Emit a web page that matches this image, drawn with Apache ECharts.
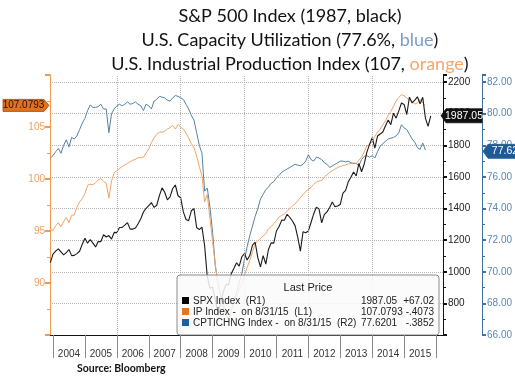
<!DOCTYPE html>
<html>
<head>
<meta charset="utf-8">
<script src="https://cdn.jsdelivr.net/npm/echarts@6/dist/echarts.min.js"></script>
<style>
  html, body { margin: 0; padding: 0; background: #fff; }
  #chart { width: 515px; height: 377px; }
</style>
</head>
<body>
<div id="chart"></div>
<script>
// monthly points, the first one sits at the end of Nov 2003
const startYear = 2003
const startMonth = 11

// S&P 500 (right axis, black), Nov 2003 .. Oct 2015
const spx = [
  1058, 1112,
  1131, 1145, 1126, 1107, 1121, 1141, 1102, 1104, 1115, 1130, 1174, 1212,
  1181, 1204, 1181, 1157, 1192, 1191, 1234, 1220, 1229, 1207, 1249, 1248,
  1280, 1281, 1295, 1311, 1270, 1270, 1277, 1304, 1336, 1378, 1401, 1418,
  1438, 1407, 1421, 1482, 1531, 1503, 1455, 1474, 1527, 1549, 1481, 1468,
  1379, 1331, 1323, 1386, 1400, 1280, 1267, 1283, 1165, 969, 896, 903,
  826, 735, 798, 873, 919, 919, 987, 1021, 1057, 1036, 1096, 1115,
  1074, 1104, 1169, 1187, 1089, 1031, 1102, 1049, 1141, 1183, 1181, 1258,
  1286, 1327, 1326, 1364, 1345, 1321, 1292, 1219, 1131, 1253, 1247, 1258,
  1312, 1366, 1408, 1398, 1310, 1362, 1379, 1407, 1441, 1412, 1416, 1426,
  1498, 1515, 1569, 1598, 1631, 1606, 1686, 1633, 1682, 1757, 1806, 1848,
  1783, 1859, 1872, 1884, 1924, 1960, 1931, 2003, 1972, 2018, 2068, 2059,
  1995, 2105, 2068, 2086, 2107, 2063, 2104, 1972, 1920, 1987.05
]

// industrial production (left axis, orange), Nov 2003 .. Aug 2015
const ip = [
  95.15, 95.05, 95.5, 95.8, 95.4, 95.9, 96.3, 95.8, 96.5, 96.55,
  97.3, 97.8, 98.1, 98.6, 99.4, 99.5, 99.45, 99.65, 99.9, 100.05,
  99.75, 99.6, 98.15, 99.8, 100.6, 100.8, 101.0, 101.2, 101.35, 101.5,
  101.65, 101.8, 101.9, 102.05, 102.05, 102.1, 102.5, 102.9, 103.5, 103.95,
  104.3, 104.5, 104.5, 104.6, 104.8, 104.95, 105.15, 104.8, 105.25, 105.0,
  104.8, 104.4, 103.95, 103.4, 103.0, 102.2, 101.2, 100.3, 97.8, 98.5,
  96.2, 94.0, 91.8, 90.0, 89.0, 88.0, 87.3, 87.0, 87.4, 88.1,
  88.7, 89.3, 90.0, 90.8, 91.5, 92.2, 93.0, 93.8, 94.0, 94.3,
  94.5, 94.75, 95.2, 95.4, 95.7, 96.0, 96.35, 96.5, 96.65, 96.9,
  97.15, 97.4, 97.6, 97.9, 98.2, 98.5, 98.8, 99.0, 99.2, 99.5,
  99.7, 99.8, 99.85, 100.2, 100.4, 100.65, 100.8, 100.95, 101.1, 101.2,
  101.3, 101.35, 101.45, 101.5, 101.55, 101.5, 101.8, 102.1, 102.6, 103.2,
  103.3, 103.6, 104.1, 104.5, 104.8, 105.2, 105.6, 106.1, 106.5, 107.0,
  107.5, 107.85, 108.1, 108.0, 107.8, 107.6, 107.5, 107.2, 107.3, 107.65,
  107.3, 107.0793
]

// capacity utilization (far right axis, blue), Nov 2003 .. Aug 2015
const cu = [
  77.2, 77.35, 77.6, 77.8, 77.5, 78.0, 78.35, 77.9, 78.5, 78.4,
  78.6, 79.0, 79.4, 79.7, 80.2, 80.55, 80.4, 80.4, 80.45, 80.6,
  80.3, 80.3, 78.8, 80.0, 80.3, 80.5, 80.6, 80.5, 80.6, 80.75,
  80.6, 80.65, 80.75, 80.6, 80.5, 80.2, 80.6, 80.5, 80.3, 80.8,
  80.9, 81.1, 81.05, 81.0, 80.85, 80.8, 81.0, 81.15, 81.1, 81.0,
  80.9, 80.6, 80.3, 79.9, 79.6, 78.8, 78.0, 77.5, 75.1, 75.3,
  74.1, 72.5, 70.4, 69.3, 68.5, 67.8, 67.3, 67.0, 67.5, 68.2,
  68.7, 69.3, 69.9, 70.8, 71.6, 72.3, 72.9, 73.5, 74.0, 74.6,
  74.9, 75.2, 75.35, 75.6, 75.7, 75.95, 76.1, 76.3, 76.4, 76.5,
  76.6, 76.7, 76.8, 76.75, 76.7, 76.8, 77.0, 77.4, 77.1, 77.0,
  77.25, 77.2, 77.1, 76.9, 76.8, 76.6, 76.7, 76.8, 76.9, 77.0,
  77.0, 76.95, 77.0, 76.9, 76.85, 76.85, 76.7, 77.1, 77.3, 77.35,
  77.25, 77.35, 77.2, 77.6, 77.95, 78.1, 78.25, 78.4, 78.45, 78.5,
  78.6, 78.8, 79.3, 79.1, 79.0, 78.7, 78.4, 78.2, 77.85, 77.75,
  78.15, 77.7
]

const yearTicks = [2004, 2005, 2006, 2007, 2008, 2009, 2010, 2011, 2012, 2013, 2014, 2015, 2016]
const yearLabels = [2004, 2005, 2006, 2007, 2008, 2009, 2010, 2011, 2012, 2013, 2014, 2015]
const gridYears = [2006, 2008, 2010, 2012, 2014]
const ipLabels = [90, 95, 100, 105]
const spxLabels = [800, 1000, 1200, 1400, 1600, 1800, 2000, 2200]
const cuLabels = [66, 68, 70, 72, 74, 76, 78, 80, 82]

// last price box
const lastRows = [
  { name: 'SPX Index  (R1)', last: '1987.05', change: '+67.02', color: '#000000' },
  { name: 'IP Index -  on 8/31/15  (L1)', last: '107.0793', change: '-.4073', color: '#e8731e' },
  { name: 'CPTICHNG Index -  on 8/31/15  (R2)', last: '77.6201', change: '-.3852', color: '#1f5fa0' }
]
const lastSpx = 1987.05
const lastIp = 107.0793
const lastCu = 77.62

const toPoints = arr => arr.map((v, i) => [startYear + (startMonth + i) / 12, v])

const axisFont = 'Liberation Sans'
const orange = '#f0a266'
const blue = '#55809f'

const chart = echarts.init(document.getElementById('chart'))

const titleRich = (color) => ({ color: color, fontFamily: 'Lato', fontSize: 18, fontWeight: 'normal', lineHeight: 24 })

const option = {
  animation: false,
  title: {
    left: 285,
    top: -1,
    textAlign: 'center',
    text: '{a|S&P 500 Index (1987, black)}\n{a|U.S. Capacity Utilization (77.6%, }{b|blue}{a|)}\n{a|U.S. Industrial Production Index (107, }{c|orange}{a|)}',
    textStyle: {
      fontFamily: 'Lato',
      fontSize: 18,
      fontWeight: 'normal',
      lineHeight: 24,
      rich: {
        a: titleRich('#111'),
        b: titleRich('#7c9fc8'),
        c: titleRich('#f4a66c')
      }
    }
  },
  grid: {
    left: 50,
    top: 75,
    width: 393,
    height: 260,
    outerBoundsMode: 'none'
  },
  xAxis: {
    type: 'value',
    min: 2003.906,
    max: 2016.218,
    axisLine: { lineStyle: { color: '#111', width: 1 } },
    axisTick: {
      show: true,
      customValues: yearTicks,
      length: 23,
      lineStyle: { color: '#8a8a8a' }
    },
    axisLabel: {
      customValues: yearLabels.map(y => y + 0.5),
      formatter: v => String(Math.floor(v)),
      margin: 14,
      color: '#333',
      fontFamily: axisFont,
      fontSize: 10
    },
    splitLine: { show: false }
  },
  yAxis: [
    {
      type: 'value',
      position: 'left',
      min: 85,
      max: 110,
      interval: 5,
      axisLine: { show: true, lineStyle: { color: '#ef9a50', width: 1 } },
      axisTick: { show: true, length: 5, lineStyle: { color: '#ef9a50', width: 2 } },
      minorTick: { show: true, splitNumber: 2, length: 3, lineStyle: { color: '#ef9a50' } },
      axisLabel: {
        formatter: v => (ipLabels.includes(v) ? String(v) : ''),
        color: '#f0a060',
        margin: 5,
        fontFamily: axisFont,
        fontSize: 10
      },
      splitLine: { show: false }
    },
    {
      type: 'value',
      position: 'right',
      min: 600,
      max: 2245,
      interval: 200,
      axisLine: { show: true, lineStyle: { color: '#111', width: 1 } },
      axisTick: { show: true, length: 4, lineStyle: { color: '#111', width: 2 } },
      minorTick: { show: true, splitNumber: 2, length: 3, lineStyle: { color: '#111' } },
      axisLabel: {
        formatter: v => (spxLabels.includes(v) ? String(v) : ''),
        color: '#222',
        margin: 5,
        fontFamily: axisFont,
        fontSize: 10
      },
      splitLine: {
        show: true,
        showMinLine: false,
        showMaxLine: false,
        lineStyle: { color: '#b4b4b4', type: 'dotted', width: 1 }
      }
    },
    {
      type: 'value',
      position: 'right',
      offset: 39,
      min: 66,
      max: 82.45,
      interval: 2,
      axisLine: { show: true, lineStyle: { color: '#3f6f9c', width: 1 } },
      axisTick: { show: true, length: 4, lineStyle: { color: '#3f6f9c', width: 2 } },
      minorTick: { show: true, splitNumber: 2, length: 3, lineStyle: { color: '#3f6f9c' } },
      axisLabel: {
        formatter: v => (cuLabels.includes(v) ? v.toFixed(2) : ''),
        color: '#5a88b5',
        margin: 5,
        fontFamily: axisFont,
        fontSize: 10
      },
      splitLine: { show: false }
    }
  ],
  series: [
    {
      // vertical dotted grid every two years
      type: 'line',
      data: [],
      yAxisIndex: 1,
      z: 1,
      silent: true,
      markLine: {
        silent: true,
        symbol: ['none', 'none'],
        label: { show: false },
        lineStyle: { color: '#b4b4b4', type: 'dotted', width: 1 },
        data: gridYears.map(y => ({ xAxis: y }))
      }
    },
    {
      name: 'CPTICHNG Index',
      type: 'line',
      yAxisIndex: 2,
      data: toPoints(cu),
      showSymbol: false,
      z: 2,
      lineStyle: { color: blue, width: 1 }
    },
    {
      name: 'IP Index',
      type: 'line',
      yAxisIndex: 0,
      data: toPoints(ip),
      showSymbol: false,
      z: 3,
      lineStyle: { color: orange, width: 1 }
    },
    {
      name: 'SPX Index',
      type: 'line',
      yAxisIndex: 1,
      data: toPoints(spx),
      showSymbol: false,
      z: 4,
      lineStyle: { color: '#1a1a1a', width: 1.1 }
    }
  ]
}

chart.setOption(option)

// value tags sit on the axes, placed through the axes' own scales
const yIp = chart.convertToPixel({ yAxisIndex: 0 }, lastIp)
const ySpx = chart.convertToPixel({ yAxisIndex: 1 }, lastSpx)
const yCu = chart.convertToPixel({ yAxisIndex: 2 }, lastCu)

function tag(id, tipX, y, dir, width, h, fill, stroke, textColor, fontSize, text) {
  const body = tipX + dir * 5
  const end = body + dir * width
  return [
    {
      type: 'polygon',
      id: id + 'Box',
      z: 120,
      shape: { points: [[tipX, y], [body, y - h], [end, y - h], [end, y + h], [body, y + h]] },
      style: { fill: fill, stroke: stroke, lineWidth: 0.8 }
    },
    {
      type: 'text',
      id: id + 'Text',
      z: 121,
      x: (body + end) / 2,
      y: y,
      style: {
        text: text, fill: textColor, font: fontSize + 'px ' + axisFont,
        align: 'center', verticalAlign: 'middle'
      }
    }
  ]
}

const box = { x: 177, y: 275, w: 262, h: 60 }
const legendItems = [
  {
    type: 'rect', z: 100,
    shape: { x: box.x, y: box.y, width: box.w, height: box.h, r: 3 },
    style: { fill: 'rgba(250,250,250,0.86)', stroke: '#8c8c8c', lineWidth: 1 }
  },
  {
    type: 'text', z: 101,
    x: 308, y: 288,
    style: { text: 'Last Price', fill: '#222', font: '11px ' + axisFont, align: 'center', verticalAlign: 'middle' }
  }
]
lastRows.forEach((row, k) => {
  const ry = 301 + k * 11
  legendItems.push(
    { type: 'rect', z: 101, shape: { x: 182, y: ry - 4, width: 7, height: 7 }, style: { fill: row.color } },
    { type: 'text', z: 101, x: 193, y: ry, style: { text: row.name, fill: '#222', font: '10px ' + axisFont, verticalAlign: 'middle' } },
    { type: 'text', z: 101, x: 361, y: ry, style: { text: row.last, fill: '#222', font: '10px ' + axisFont, verticalAlign: 'middle' } },
    { type: 'text', z: 101, x: 434, y: ry, style: { text: row.change, fill: '#222', font: '10px ' + axisFont, align: 'right', verticalAlign: 'middle' } }
  )
})

chart.setOption({
  graphic: [
    ...legendItems,
    ...tag('tagIp', 49, yIp, -1, 41, 6, '#e2711d', '#9a4612', '#2a1200', 10, '107.0793'),
    ...tag('tagSpx', 441, ySpx, 1, 36, 7, '#111', '#111', '#fff', 10.5, '1987.05'),
    ...tag('tagCu', 483, yCu, 1, 34, 7, '#1d5a96', '#1d5a96', '#fff', 10.5, '77.62'),
    {
      type: 'text', id: 'source', x: 77, y: 369, z: 100,
      style: { text: 'Source: Bloomberg', fill: '#111', font: 'bold 10.5px Lato', verticalAlign: 'middle' }
    }
  ]
})
</script>
</body>
</html>
